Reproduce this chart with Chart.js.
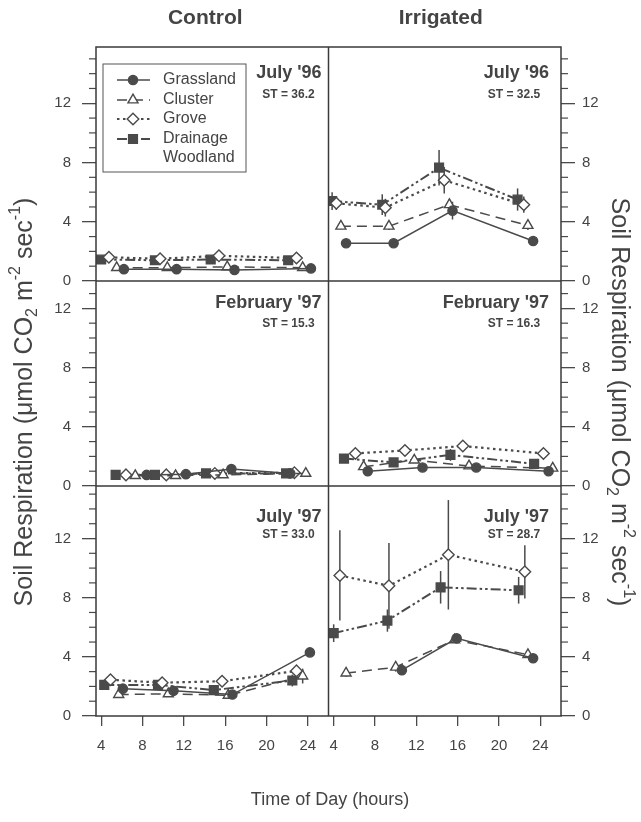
<!DOCTYPE html>
<html>
<head>
<meta charset="utf-8">
<script src="https://cdn.jsdelivr.net/npm/chart.js@4.4.1/dist/chart.umd.min.js"></script>
<style>
  html, body { margin: 0; padding: 0; background: #fff; }
  #wrap { position: relative; width: 641px; height: 822px; }
</style>
</head>
<body>
<div id="wrap"><canvas id="chart" width="641" height="822"></canvas></div>
<script>
const xTicks = [4, 8, 12, 16, 20, 24];
const yTicks = [0, 4, 8, 12];
const seriesNames = ["Grassland", "Cluster", "Grove", "Drainage Woodland"];
const columnTitles = ["Control", "Irrigated"];
const panelTitles = ["July '96", "July '96", "February '97", "February '97", "July '97", "July '97"];
const panelST = ["ST = 36.2", "ST = 32.5", "ST = 15.3", "ST = 16.3", "ST = 33.0", "ST = 28.7"];

// [hour, soil respiration] pairs, one array per site and panel
// Control, July '96
const grassC96 = [[6.2, 0.8], [11.3, 0.8], [16.9, 0.75], [24.3, 0.85]];
const clustC96 = [[5.5, 0.9], [10.4, 0.9], [16.2, 0.95], [23.5, 0.9]];
const groveC96 = [[4.75, 1.6], [9.7, 1.5], [15.4, 1.7], [22.9, 1.55]];
const drainC96 = [[4.0, 1.45], [9.2, 1.4], [14.6, 1.45], [22.1, 1.4]];
// Irrigated, July '96
const grassI96 = [[5.2, 2.55], [9.8, 2.55], [15.5, 4.75], [23.3, 2.7]];
const clustI96 = [[4.7, 3.7], [9.35, 3.7], [15.2, 5.15], [22.8, 3.75]];
const groveI96 = [[4.26, 5.25], [9.0, 4.95], [14.7, 6.8], [22.4, 5.15]];
const drainI96 = [[3.85, 5.4], [8.7, 5.15], [14.2, 7.65], [21.8, 5.5]];
// Control, February '97
const grassCFeb = [[8.4, 0.75], [12.2, 0.8], [16.6, 1.15], [22.3, 0.85]];
const clustCFeb = [[7.3, 0.7], [11.2, 0.7], [15.8, 0.75], [23.8, 0.85]];
const groveCFeb = [[6.4, 0.75], [10.3, 0.75], [15.0, 0.85], [22.7, 0.9]];
const drainCFeb = [[5.4, 0.75], [9.2, 0.75], [14.15, 0.85], [21.9, 0.85]];
// Irrigated, February '97
const grassIFeb = [[7.3, 1.0], [12.6, 1.25], [17.8, 1.25], [24.8, 1.0]];
const clustIFeb = [[6.9, 1.3], [11.8, 1.75], [17.1, 1.35], [25.2, 1.2]];
const groveIFeb = [[6.1, 2.2], [10.9, 2.4], [16.5, 2.7], [24.3, 2.2]];
const drainIFeb = [[5.0, 1.85], [9.8, 1.6], [15.3, 2.1], [23.4, 1.5]];
// Control, July '97
const grassC97 = [[6.1, 1.85], [11.0, 1.7], [16.7, 1.45], [24.2, 4.3]];
const clustC97 = [[5.7, 1.45], [10.5, 1.5], [16.3, 1.4], [23.5, 2.7]];
const groveC97 = [[4.9, 2.45], [9.9, 2.25], [15.7, 2.35], [22.9, 3.05]];
const drainC97 = [[4.3, 2.1], [9.5, 2.1], [14.9, 1.75], [22.5, 2.4]];
// Irrigated, July '97
const grassI97 = [[10.6, 3.1], [15.9, 5.25], [23.3, 3.9]];
const clustI97 = [[5.2, 2.9], [10.0, 3.3], [15.7, 5.15], [22.8, 4.15]];
const groveI97 = [[4.6, 9.5], [9.35, 8.8], [15.1, 10.9], [22.5, 9.75]];
const drainI97 = [[4.0, 5.6], [9.2, 6.45], [14.35, 8.7], [21.9, 8.5]];

// error bars (+/-), same order as the points
const grassI96Err = [0, 0, 0.6, 0];
const clustI96Err = [0.2, 0.25, 0.4, 0.3];
const groveI96Err = [0.45, 0.6, 0.9, 0.55];
const drainI96Err = [0.6, 0.7, 1.2, 0.75];
const groveIFebErr = [0.1, 0.15, 0.15, 0.1];
const drainIFebErr = [0.2, 0.25, 0.4, 0.2];
const clustC97Err = [0, 0, 0, 0.5];
const drainC97Err = [0, 0, 0.2, 0.4];
const grassI97Err = [0.2, 0.2, 0.2];
const clustI97Err = [0.25, 0.3, 0.2, 0.2];
const groveI97Err = [3.05, 2.9, 3.7, 1.8];
const drainI97Err = [0.6, 0.75, 1.1, 0.9];

const FONT = "'Liberation Sans', Arial, sans-serif";
const INK = "#4a4a4a";
const TEXT = "#444";

const styles = [
  { pointStyle: "circle", radius: 4.6, fill: INK, dash: [], width: 1.5 },
  { pointStyle: "triangle", radius: 5.8, fill: "#fff", dash: [10, 6], width: 1.5 },
  { pointStyle: "rectRot", radius: 5.8, fill: "#fff", dash: [2.5, 3.5], width: 2.2 },
  { pointStyle: "rect", radius: 6.2, fill: INK, dash: [10, 3, 2.5, 3, 2.5, 3], width: 2 }
];

// panel heights in px (top, middle, bottom row) and the y max each one shows
const rowHeights = [234, 205, 230];
const rowMax = [15.8, 13.85, 15.55];

const panels = [
  { x: "xL", y: "yL1", sets: [grassC96, clustC96, groveC96, drainC96], errs: [] },
  { x: "xR", y: "yR1", sets: [grassI96, clustI96, groveI96, drainI96], errs: [grassI96Err, clustI96Err, groveI96Err, drainI96Err] },
  { x: "xL", y: "yL2", sets: [grassCFeb, clustCFeb, groveCFeb, drainCFeb], errs: [] },
  { x: "xR", y: "yR2", sets: [grassIFeb, clustIFeb, groveIFeb, drainIFeb], errs: [null, null, groveIFebErr, drainIFebErr] },
  { x: "xL", y: "yL3", sets: [grassC97, clustC97, groveC97, drainC97], errs: [null, clustC97Err, null, drainC97Err] },
  { x: "xR", y: "yR3", sets: [grassI97, clustI97, groveI97, drainI97], errs: [grassI97Err, clustI97Err, groveI97Err, drainI97Err] }
];

const datasets = [];
panels.forEach(p => {
  p.sets.forEach((pts, s) => {
    const st = styles[s];
    datasets.push({
      label: seriesNames[s],
      data: pts.map(([x, y]) => ({ x, y })),
      xAxisID: p.x,
      yAxisID: p.y,
      err: p.errs[s] || null,
      borderColor: INK,
      borderWidth: st.width,
      borderDash: st.dash,
      pointStyle: st.pointStyle,
      pointRadius: st.radius,
      pointBackgroundColor: st.fill,
      pointBorderColor: INK,
      pointBorderWidth: 1.4,
      tension: 0,
      fill: false
    });
  });
});

function xScale(weight) {
  return {
    type: "linear", position: "bottom", stack: "bottom", weight,
    min: 3.5, max: 26,
    afterBuildTicks: s => { s.ticks = xTicks.map(v => ({ value: v })); },
    afterFit: s => { s.height = 106; },
    grid: { display: true, drawOnChartArea: false, drawTicks: true, tickLength: 10, color: INK, lineWidth: 1.3 },
    border: { display: false },
    ticks: { color: TEXT, font: { size: 15, family: FONT }, padding: 11, maxRotation: 0, autoSkip: false }
  };
}

function yScale(pos, row, weight) {
  return {
    type: "linear", position: pos, stack: pos, stackWeight: rowHeights[row], weight,
    min: 0, max: rowMax[row],
    afterBuildTicks: s => { s.ticks = yTicks.map(v => ({ value: v })); },
    afterFit: s => { s.width = pos === "left" ? 96 : 80; },
    grid: { display: true, drawOnChartArea: false, drawTicks: true, tickLength: 14, color: INK, lineWidth: 1.3 },
    border: { display: false },
    ticks: { color: TEXT, font: { size: 15, family: FONT }, padding: pos === "left" ? 11 : 7, autoSkip: false }
  };
}

function drawMarker(ctx, s, x, y) {
  const st = styles[s];
  const r = st.radius;
  ctx.save();
  ctx.setLineDash([]);
  ctx.lineWidth = 1.4;
  ctx.strokeStyle = INK;
  ctx.fillStyle = st.fill;
  ctx.beginPath();
  if (st.pointStyle === "circle") {
    ctx.arc(x, y, r, 0, Math.PI * 2);
  } else if (st.pointStyle === "triangle") {
    ctx.moveTo(x, y - r);
    ctx.lineTo(x + r * 0.866, y + r * 0.5);
    ctx.lineTo(x - r * 0.866, y + r * 0.5);
    ctx.closePath();
  } else if (st.pointStyle === "rectRot") {
    ctx.moveTo(x, y - r); ctx.lineTo(x + r, y); ctx.lineTo(x, y + r); ctx.lineTo(x - r, y);
    ctx.closePath();
  } else {
    const h = r * Math.SQRT1_2;
    ctx.rect(x - h, y - h, 2 * h, 2 * h);
  }
  ctx.fill();
  ctx.stroke();
  ctx.restore();
}

function richText(ctx, parts, x, y, angle, size) {
  ctx.save();
  ctx.translate(x, y);
  ctx.rotate(angle);
  ctx.textBaseline = "middle";
  ctx.textAlign = "left";
  ctx.fillStyle = TEXT;
  const fontOf = k => (k ? Math.round(size * 0.65) : size) + "px " + FONT;
  let total = 0;
  parts.forEach(([t, k]) => { ctx.font = fontOf(k); total += ctx.measureText(t).width; });
  let cx = -total / 2;
  parts.forEach(([t, k]) => {
    ctx.font = fontOf(k);
    const dy = k === "sub" ? size * 0.3 : k === "sup" ? -size * 0.38 : 0;
    ctx.fillText(t, cx, dy);
    cx += ctx.measureText(t).width;
  });
  ctx.restore();
}

const yTitle = [["Soil Respiration (\u03bcmol CO", 0], ["2", "sub"], [" m", 0], ["-2", "sup"], [" sec", 0], ["-1", "sup"], [")", 0]];

const decor = {
  id: "decor",
  beforeDatasetsDraw(chart) {
    const ctx = chart.ctx;
    ctx.save();
    ctx.strokeStyle = INK;
    ctx.lineWidth = 1.5;
    chart.data.datasets.forEach(ds => {
      if (!ds.err) return;
      const xs = chart.scales[ds.xAxisID];
      const ys = chart.scales[ds.yAxisID];
      ds.data.forEach((p, j) => {
        const e = ds.err[j];
        if (!e) return;
        const px = xs.getPixelForValue(p.x);
        ctx.beginPath();
        ctx.moveTo(px, ys.getPixelForValue(p.y - e));
        ctx.lineTo(px, ys.getPixelForValue(p.y + e));
        ctx.stroke();
      });
    });
    ctx.restore();
  },
  afterDraw(chart) {
    const ctx = chart.ctx;
    const a = chart.chartArea;
    const sc = chart.scales;
    ctx.save();

    // minor ticks
    ctx.strokeStyle = INK;
    ctx.lineWidth = 1.2;
    ["yL1", "yL2", "yL3", "yR1", "yR2", "yR3"].forEach(id => {
      const s = sc[id];
      for (let v = 1; v < s.max; v++) {
        if (v % 4 === 0) continue;
        const py = s.getPixelForValue(v);
        ctx.beginPath();
        if (s.position === "left") { ctx.moveTo(s.right, py); ctx.lineTo(s.right - 7, py); }
        else { ctx.moveTo(s.left, py); ctx.lineTo(s.left + 7, py); }
        ctx.stroke();
      }
    });

    // frame and panel dividers
    ctx.lineWidth = 1.5;
    ctx.strokeStyle = "#3a3a3a";
    ctx.strokeRect(a.left, a.top, a.right - a.left, a.bottom - a.top);
    ctx.beginPath();
    ctx.moveTo(sc.xL.right, a.top); ctx.lineTo(sc.xL.right, a.bottom);
    ctx.moveTo(a.left, sc.yL1.bottom); ctx.lineTo(a.right, sc.yL1.bottom);
    ctx.moveTo(a.left, sc.yL2.bottom); ctx.lineTo(a.right, sc.yL2.bottom);
    ctx.stroke();

    // column titles
    ctx.fillStyle = TEXT;
    ctx.textBaseline = "middle";
    ctx.textAlign = "center";
    ctx.font = "bold 21px " + FONT;
    ctx.fillText(columnTitles[0], (sc.xL.left + sc.xL.right) / 2 - 7, 18);
    ctx.fillText(columnTitles[1], (sc.xR.left + sc.xR.right) / 2 - 4, 18);

    // panel titles
    const tOff = [26, 22, 31];
    const sOff = [48, 43, 49];
    panels.forEach((p, i) => {
      const xs = sc[p.x];
      const ys = sc[p.y];
      const r = Math.floor(i / 2);
      ctx.textAlign = "right";
      ctx.font = "bold 18px " + FONT;
      ctx.fillText(panelTitles[i], xs.right - (p.x === "xL" ? 7 : 12), ys.top + tOff[r]);
      ctx.textAlign = "center";
      ctx.font = "bold 12px " + FONT;
      ctx.fillText(panelST[i], xs.right - (p.x === "xL" ? 40 : 47), ys.top + sOff[r]);
    });

    // legend
    const lx = 103, ly = 64, lw = 143, lh = 108;
    ctx.lineWidth = 1;
    ctx.strokeStyle = "#555";
    ctx.strokeRect(lx, ly, lw, lh);
    ctx.font = "16px " + FONT;
    ctx.textAlign = "left";
    const rowY = [80, 100, 119, 139];
    seriesNames.forEach((name, s) => {
      const st = styles[s];
      const y = rowY[s];
      ctx.save();
      ctx.strokeStyle = INK;
      ctx.lineWidth = st.width;
      ctx.setLineDash(st.dash);
      ctx.beginPath();
      ctx.moveTo(117, y); ctx.lineTo(150, y);
      ctx.stroke();
      ctx.restore();
      drawMarker(ctx, s, 133, y);
      ctx.fillStyle = TEXT;
      if (s === 3) {
        ctx.fillText("Drainage", 163, y);
        ctx.fillText("Woodland", 163, y + 19);
      } else {
        ctx.fillText(name, 163, y);
      }
    });

    // axis titles
    const midY = 402;
    richText(ctx, yTitle, 25, midY, -Math.PI / 2, 25);
    richText(ctx, yTitle, 619, midY, Math.PI / 2, 25);
    ctx.fillStyle = TEXT;
    ctx.textAlign = "center";
    ctx.font = "18px " + FONT;
    ctx.fillText("Time of Day (hours)", 330, 800);

    ctx.restore();
  }
};

new Chart(document.getElementById("chart"), {
  type: "line",
  data: { datasets },
  options: {
    responsive: false,
    animation: false,
    layout: { padding: { top: 47, left: 0, right: 0, bottom: 0 } },
    plugins: { legend: { display: false }, tooltip: { enabled: false } },
    scales: {
      xL: xScale(1),
      xR: xScale(2),
      yL1: yScale("left", 0, 3),
      yL2: yScale("left", 1, 2),
      yL3: yScale("left", 2, 1),
      yR1: yScale("right", 0, 1),
      yR2: yScale("right", 1, 2),
      yR3: yScale("right", 2, 3)
    }
  },
  plugins: [decor]
});
</script>
</body>
</html>
